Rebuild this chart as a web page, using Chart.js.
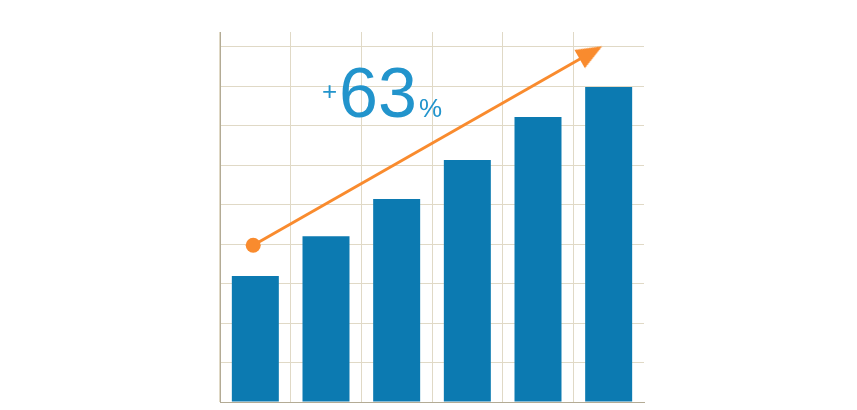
<!DOCTYPE html>
<html>
<head>
<meta charset="utf-8">
<script src="https://cdn.jsdelivr.net/npm/chart.js@4"></script>
<style>
  html, body { margin: 0; padding: 0; background: #ffffff; }
  #chart { display: block; }
</style>
</head>
<body>
<canvas id="chart" width="857" height="410"></canvas>
<script>
// --- data ---
const categories = ['1', '2', '3', '4', '5', '6'];
const barValues = [3.19, 4.20, 5.14, 6.13, 7.22, 7.98];

// trend arrow: start dot and arrow tip, in category / value units
const trendX = [-0.03, 4.86];
const trendY = [3.97, 8.96];

const yMin = 0;
const yMax = 9.37;
const yStep = 1;

const growthLabel = { sign: '+', value: '63', unit: '%' };

// --- styles ---
const BAR_COLOR = '#0c7ab1';
const ARROW_COLOR = '#f98b2e';
const GRID_COLOR = '#e0d9c6';
const AXIS_COLOR = '#b3ab95';
const TEXT_COLOR = '#2294cc';
const FONT = '"Liberation Sans", Arial, Helvetica, sans-serif';

// arrowhead image, tip a little ahead of the centre so it covers the line end
function makeArrowHead() {
    const c = document.createElement('canvas');
    c.width = 60;
    c.height = 24;
    const g = c.getContext('2d');
    g.fillStyle = ARROW_COLOR;
    g.beginPath();
    g.moveTo(34, 12);
    g.lineTo(8, 1.5);
    g.lineTo(8, 22.5);
    g.closePath();
    g.fill();
    return c;
}
const arrowHead = makeArrowHead();

// angle of the trend line in screen space
function trendAngle(ctx) {
    const chart = ctx.chart;
    const xs = chart.scales.x2, ys = chart.scales.y;
    if (!xs || !ys) return 0;
    const dx = xs.getPixelForValue(trendX[1]) - xs.getPixelForValue(trendX[0]);
    const dy = ys.getPixelForValue(trendY[1]) - ys.getPixelForValue(trendY[0]);
    return Math.atan2(dy, dx) * 180 / Math.PI;
}

const headlinePlugin = {
    id: 'headline',
    afterDatasetsDraw(chart) {
        const ctx = chart.ctx;
        ctx.save();
        ctx.fillStyle = TEXT_COLOR;
        ctx.textBaseline = 'alphabetic';
        ctx.textAlign = 'left';
        ctx.font = '26px ' + FONT;
        ctx.fillText(growthLabel.sign, 322, 100);
        ctx.font = '70px ' + FONT;
        ctx.fillText(growthLabel.value, 339, 117);
        ctx.font = '26px ' + FONT;
        ctx.fillText(growthLabel.unit, 419, 117);
        ctx.restore();
    }
};

new Chart(document.getElementById('chart'), {
    type: 'bar',
    data: {
        labels: categories,
        datasets: [
            {
                data: barValues,
                backgroundColor: BAR_COLOR,
                borderWidth: 0,
                grouped: false,
                categoryPercentage: 1,
                barPercentage: 0.665
            },
            {
                type: 'line',
                xAxisID: 'x2',
                data: trendX.map((x, i) => ({ x: x, y: trendY[i] })),
                borderColor: ARROW_COLOR,
                borderWidth: 3,
                tension: 0,
                fill: false,
                pointStyle: ['circle', arrowHead],
                pointRadius: 7.5,
                pointBorderWidth: 0,
                pointBackgroundColor: ARROW_COLOR,
                rotation: (ctx) => ctx.dataIndex === 1 ? trendAngle(ctx) : 0,
                clip: false
            }
        ]
    },
    options: {
        responsive: false,
        devicePixelRatio: 1,
        animation: false,
        layout: { padding: { left: 220, right: 213, top: 32, bottom: 8 } },
        scales: {
            x: {
                grid: {
                    color: (ctx) => ctx.type === 'tick' ? GRID_COLOR : 'rgba(0,0,0,0)',
                    lineWidth: 1,
                    drawTicks: false
                },
                border: { color: AXIS_COLOR, width: 1 },
                ticks: { display: false }
            },
            x2: {
                type: 'linear',
                display: false,
                offset: false,
                min: -0.5,
                max: categories.length - 0.5
            },
            y: {
                min: yMin,
                max: yMax,
                grid: { color: GRID_COLOR, lineWidth: 1, drawTicks: false },
                border: { color: AXIS_COLOR, width: 1 },
                ticks: { display: false, stepSize: yStep, includeBounds: false }
            }
        },
        plugins: {
            legend: { display: false },
            tooltip: { enabled: false }
        }
    },
    plugins: [headlinePlugin]
});
</script>
</body>
</html>
